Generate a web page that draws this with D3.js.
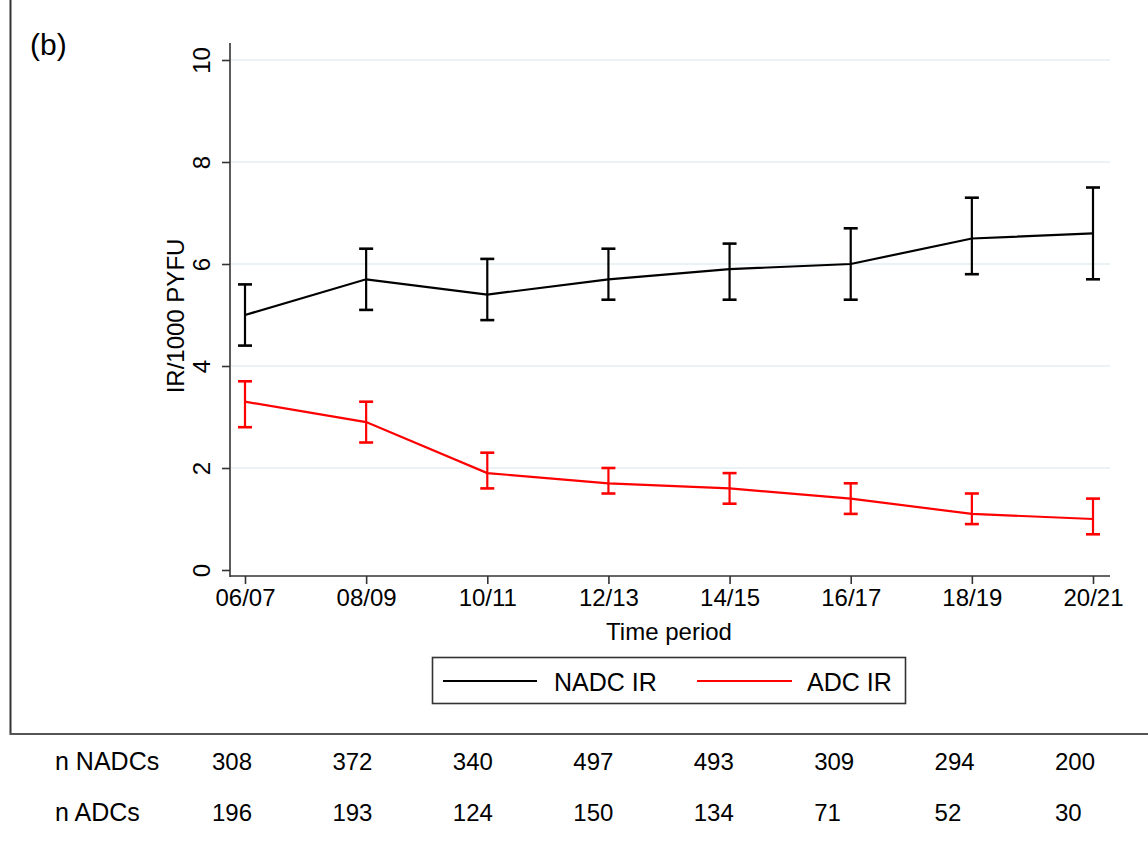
<!DOCTYPE html>
<html>
<head>
<meta charset="utf-8">
<script src="https://cdn.jsdelivr.net/npm/d3@7"></script>
<style>
  body { margin: 0; background: #fff; }
  text { font-family: "Liberation Sans", Arial, sans-serif; fill: #000; }
</style>
</head>
<body>
<script>
// time periods on the x axis
var periods = ["06/07", "08/09", "10/11", "12/13", "14/15", "16/17", "18/19", "20/21"];

// NADC incidence rate per 1000 PYFU with 95% CI
var nadcIR = [5.0, 5.7, 5.4, 5.7, 5.9, 6.0, 6.5, 6.6];
var nadcLo = [4.4, 5.1, 4.9, 5.3, 5.3, 5.3, 5.8, 5.7];
var nadcHi = [5.6, 6.3, 6.1, 6.3, 6.4, 6.7, 7.3, 7.5];

// ADC incidence rate per 1000 PYFU with 95% CI
var adcIR = [3.3, 2.9, 1.9, 1.7, 1.6, 1.4, 1.1, 1.0];
var adcLo = [2.8, 2.5, 1.6, 1.5, 1.3, 1.1, 0.9, 0.7];
var adcHi = [3.7, 3.3, 2.3, 2.0, 1.9, 1.7, 1.5, 1.4];

// counts table below the chart
var nNADCs = [308, 372, 340, 497, 493, 309, 294, 200];
var nADCs = [196, 193, 124, 150, 134, 71, 52, 30];

var yTicks = [0, 2, 4, 6, 8, 10];

var W = 1148, H = 849;

var svg = d3.select("body").append("svg")
  .attr("width", W)
  .attr("height", H);

var x = d3.scalePoint().domain(periods).range([245, 1093]);
var y = d3.scaleLinear().domain([0, 10]).range([570, 60]);

// frame lines of the panel
svg.append("line")
  .attr("x1", 10.5).attr("x2", 10.5)
  .attr("y1", 0).attr("y2", 735)
  .attr("stroke", "#333").attr("stroke-width", 2);
svg.append("line")
  .attr("x1", 10).attr("x2", W)
  .attr("y1", 734).attr("y2", 734)
  .attr("stroke", "#555").attr("stroke-width", 2);

svg.append("text")
  .attr("x", 30).attr("y", 55)
  .style("font-size", "30px")
  .text("(b)");

// gridlines
svg.append("g").selectAll("line")
  .data(yTicks.filter(function(d) { return d > 0; }))
  .enter().append("line")
  .attr("x1", 231).attr("x2", 1110)
  .attr("y1", function(d) { return y(d); })
  .attr("y2", function(d) { return y(d); })
  .attr("stroke", "#e3eef2")
  .attr("stroke-width", 1.6);

// y axis
var yAxis = svg.append("g")
  .attr("transform", "translate(230,0)")
  .call(d3.axisLeft(y).tickValues(yTicks).tickSize(8).tickPadding(5));
yAxis.select(".domain").attr("d", "M0,43V577").attr("stroke", "#333").attr("stroke-width", 1.6);
yAxis.selectAll(".tick line").attr("stroke", "#333").attr("stroke-width", 1.6);
yAxis.selectAll(".tick text")
  .attr("transform", "rotate(-90)")
  .attr("x", 0).attr("y", -28)
  .attr("dy", "0.35em")
  .style("text-anchor", "middle")
  .style("font-size", "24px")
  .style("font-family", "Liberation Sans, Arial, sans-serif");

// x axis
var xAxis = svg.append("g")
  .attr("transform", "translate(0,576)")
  .call(d3.axisBottom(x).tickSize(8).tickPadding(5));
xAxis.select(".domain").attr("d", "M230,0H1110").attr("stroke", "#333").attr("stroke-width", 1.6);
xAxis.selectAll(".tick line").attr("stroke", "#333").attr("stroke-width", 1.6);
xAxis.selectAll(".tick text")
  .style("font-size", "24px")
  .style("font-family", "Liberation Sans, Arial, sans-serif");

// axis titles
svg.append("text")
  .attr("transform", "translate(184,316) rotate(-90)")
  .style("text-anchor", "middle")
  .style("font-size", "24px")
  .text("IR/1000 PYFU");
svg.append("text")
  .attr("x", 669).attr("y", 640)
  .style("text-anchor", "middle")
  .style("font-size", "24px")
  .text("Time period");

// series with error bars
var series = [
  { name: "NADC IR", color: "#000", v: nadcIR, lo: nadcLo, hi: nadcHi },
  { name: "ADC IR", color: "#ff0000", v: adcIR, lo: adcLo, hi: adcHi }
];

var line = d3.line()
  .x(function(d) { return x(d.p); })
  .y(function(d) { return y(d.v); });

series.forEach(function(s) {
  var pts = periods.map(function(p, i) {
    return { p: p, v: s.v[i], lo: s.lo[i], hi: s.hi[i] };
  });
  var g = svg.append("g");
  g.append("path")
    .datum(pts)
    .attr("d", line)
    .attr("fill", "none")
    .attr("stroke", s.color)
    .attr("stroke-width", 2.2);
  var eb = g.selectAll(".eb").data(pts).enter().append("g").attr("class", "eb");
  eb.append("line")
    .attr("x1", function(d) { return x(d.p); })
    .attr("x2", function(d) { return x(d.p); })
    .attr("y1", function(d) { return y(d.lo); })
    .attr("y2", function(d) { return y(d.hi); })
    .attr("stroke", s.color).attr("stroke-width", 2.2);
  ["lo", "hi"].forEach(function(k) {
    eb.append("line")
      .attr("x1", function(d) { return x(d.p) - 7; })
      .attr("x2", function(d) { return x(d.p) + 7; })
      .attr("y1", function(d) { return y(d[k]); })
      .attr("y2", function(d) { return y(d[k]); })
      .attr("stroke", s.color).attr("stroke-width", 2.6);
  });
});

// legend
var lg = svg.append("g");
lg.append("rect")
  .attr("x", 432.5).attr("y", 657.5)
  .attr("width", 473).attr("height", 46)
  .attr("fill", "#fff")
  .attr("stroke", "#333").attr("stroke-width", 1.6);
var legX = [[443, 537, 554], [697, 792, 807]];
series.forEach(function(s, i) {
  lg.append("line")
    .attr("x1", legX[i][0]).attr("x2", legX[i][1])
    .attr("y1", 681).attr("y2", 681)
    .attr("stroke", s.color).attr("stroke-width", 2.2);
  lg.append("text")
    .attr("x", legX[i][2]).attr("y", 691)
    .style("font-size", "25px")
    .text(s.name);
});

// counts table
var col = d3.scalePoint().domain(periods).range([212, 1055]);
var rows = [
  { label: "n NADCs", vals: nNADCs, y: 770 },
  { label: "n ADCs", vals: nADCs, y: 821 }
];
rows.forEach(function(r) {
  svg.append("text")
    .attr("x", 55).attr("y", r.y)
    .style("font-size", "25px")
    .text(r.label);
  svg.append("g").selectAll("text")
    .data(r.vals)
    .enter().append("text")
    .attr("x", function(d, i) { return col(periods[i]); })
    .attr("y", r.y)
    .style("font-size", "24px")
    .text(function(d) { return d; });
});
</script>
</body>
</html>
